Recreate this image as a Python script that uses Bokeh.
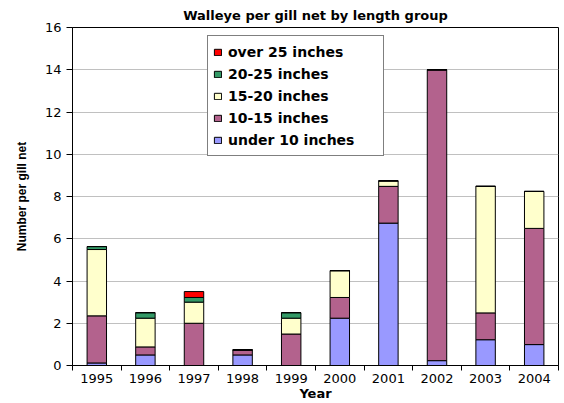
from bokeh.plotting import figure
from bokeh.models import ColumnDataSource, Range1d, FixedTicker, Legend, LegendItem
from bokeh.embed import file_html
from bokeh.resources import INLINE

years = [1995, 1996, 1997, 1998, 1999, 2000, 2001, 2002, 2003, 2004]
under_10 = [0.12, 0.50, 0.00, 0.50, 0.00, 2.24, 6.74, 0.23, 1.22, 0.99]
in_10_15 = [2.23, 0.38, 2.00, 0.24, 1.49, 0.98, 1.74, 13.77, 1.27, 5.50]
in_15_20 = [3.14, 1.36, 1.00, 0.00, 0.75, 1.27, 0.26, 0.00, 5.99, 1.75]
in_20_25 = [0.14, 0.26, 0.22, 0.00, 0.26, 0.00, 0.00, 0.00, 0.00, 0.00]
over_25 = [0.00, 0.00, 0.28, 0.00, 0.00, 0.00, 0.00, 0.00, 0.00, 0.00]

series = ["under10", "i10_15", "i15_20", "i20_25", "over25"]
labels = ["under 10 inches", "10-15 inches", "15-20 inches", "20-25 inches", "over 25 inches"]
colors = ["#9999FF", "#B3628D", "#FFFFCC", "#339966", "#FF0000"]
y_ticks = [0, 2, 4, 6, 8, 10, 12, 14, 16]
year_bounds = [1994.5, 1995.5, 1996.5, 1997.5, 1998.5, 1999.5, 2000.5, 2001.5, 2002.5, 2003.5, 2004.5]

src = ColumnDataSource(dict(year=years, under10=under_10, i10_15=in_10_15,
                            i15_20=in_15_20, i20_25=in_20_25, over25=over_25))

WIDE = "DejaVu Sans"
NARROW = "Liberation Sans"

p = figure(width=564, height=403, output_backend="svg", toolbar_location=None,
           x_range=Range1d(year_bounds[0], year_bounds[-1]), y_range=Range1d(0, 16),
           min_border_left=72, min_border_right=6, min_border_top=27, min_border_bottom=36)

p.title.text = "Walleye per gill net by length group"
p.title.text_font = WIDE
p.title.text_font_size = "13px"
p.title.text_font_style = "bold"
p.title.text_color = "black"
p.title.align = "center"
p.title.offset = 0
p.title.standoff = 9

renderers = p.vbar_stack(series, x="year", width=0.4, source=src,
                         fill_color=colors, line_color="black", line_width=1)

p.outline_line_color = "black"
p.outline_line_width = 1
p.background_fill_color = "white"
p.border_fill_color = "white"

p.xgrid.visible = False
p.ygrid.grid_line_color = "#C0C0C0"
p.ygrid.grid_line_width = 1

p.yaxis.ticker = FixedTicker(ticks=y_ticks)
p.yaxis.axis_label = "Number per gill net"
p.yaxis.axis_label_text_font = NARROW
p.yaxis.axis_label_text_font_style = "bold"
p.yaxis.axis_label_text_font_size = "12px"
p.yaxis.axis_label_text_color = "black"
p.yaxis.axis_label_standoff = 13
p.yaxis.major_label_text_font = WIDE
p.yaxis.major_label_text_font_size = "13px"
p.yaxis.major_label_text_color = "black"
p.yaxis.major_label_standoff = 5
p.yaxis.major_tick_out = 6
p.yaxis.major_tick_in = 0
p.yaxis.minor_tick_line_color = None
p.yaxis.axis_line_color = "black"
p.yaxis.major_tick_line_color = "black"

p.xaxis.ticker = FixedTicker(ticks=years, minor_ticks=year_bounds)
p.xaxis.axis_label = "Year"
p.xaxis.axis_label_text_font = WIDE
p.xaxis.axis_label_text_font_style = "bold"
p.xaxis.axis_label_text_font_size = "13px"
p.xaxis.axis_label_text_color = "black"
p.xaxis.axis_label_standoff = 0
p.xaxis.major_label_text_font = WIDE
p.xaxis.major_label_text_font_size = "13px"
p.xaxis.major_label_text_color = "black"
p.xaxis.major_label_standoff = 3
p.xaxis.major_tick_out = 5
p.xaxis.major_tick_in = 0
p.xaxis.major_tick_line_color = None
p.xaxis.minor_tick_line_color = "black"
p.xaxis.minor_tick_out = 5
p.xaxis.minor_tick_in = 0
p.xaxis.axis_line_color = "black"

items = [LegendItem(label=lab, renderers=[r]) for lab, r in zip(labels, renderers)]
items.reverse()
legend = Legend(items=items, location=(135, 209), orientation="vertical",
                border_line_color="black", border_line_width=1,
                background_fill_color="white", background_fill_alpha=1.0,
                label_text_font=WIDE, label_text_font_size="14px",
                label_text_font_style="bold", label_text_color="black",
                glyph_width=9, glyph_height=8, label_standoff=6,
                label_height=21, label_width=150, spacing=1, padding=5, margin=0)
p.add_layout(legend, "center")

open("out.html", "w").write(file_html(p, INLINE))
